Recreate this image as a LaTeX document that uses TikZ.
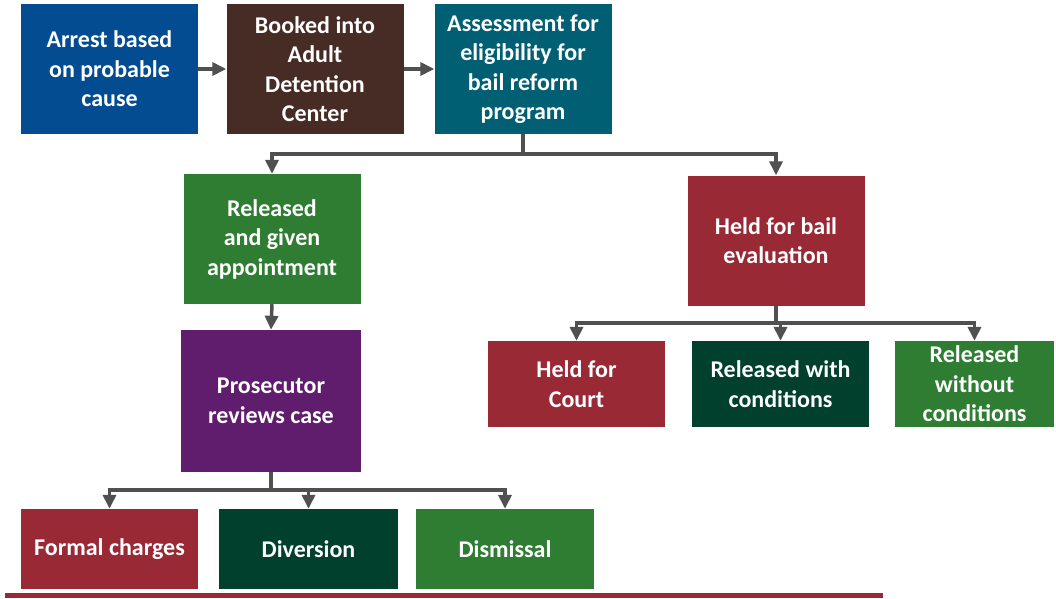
\documentclass[tikz,border=0pt]{standalone}
\usepackage{fontspec}
\setmainfont{Carlito}
\usetikzlibrary{arrows.meta}
\definecolor{cblue}{RGB}{3,76,145}
\definecolor{cbrown}{RGB}{70,44,36}
\definecolor{cteal}{RGB}{0,95,115}
\definecolor{cgreen}{RGB}{47,125,50}
\definecolor{cred}{RGB}{153,41,53}
\definecolor{cpurple}{RGB}{97,29,109}
\definecolor{cdkgreen}{RGB}{0,64,44}
\definecolor{cline}{RGB}{80,80,80}
\begin{document}
\begin{tikzpicture}[x=1pt,y=-1pt,
  box/.style={inner sep=0pt, text=white, align=center,
    font=\bfseries\fontsize{24}{29.5}\selectfont},
  big/.style={box, minimum width=177pt, minimum height=130pt},
  small/.style={box, minimum width=177pt, minimum height=86pt},
  wire/.style={draw=cline, line width=3.5pt},
  conn/.style={wire, -{Triangle[width=13pt,length=14pt]}}
]
\useasboundingbox (0,0) rectangle (1056,598);
% top row
\node[big, fill=cblue] (arrest) at (109.5,69) {Arrest based\\on probable\\cause};
\node[big, fill=cbrown] (booked) at (315,69) {Booked into\\Adult\\Detention\\Center};
\node[big, fill=cteal] (assess) at (523,69) {Assessment for\\eligibility for\\bail reform\\program};
% second row
\node[big, fill=cgreen] (released) at (272,239) {Released\\and given\\appointment};
\node[big, fill=cred] (held) at (776,240.5) {Held for bail\\evaluation};
% prosecutor
\node[box, fill=cpurple, minimum width=180pt, minimum height=142pt] (pros) at (271,401) {Prosecutor\\reviews case};
% outcomes
\node[box, fill=cred, minimum width=177pt, minimum height=80pt] (formal) at (109.5,549) {Formal charges};
\node[box, fill=cdkgreen, minimum width=179pt, minimum height=80pt] (divers) at (308.5,549) {Diversion};
\node[box, fill=cgreen, minimum width=178pt, minimum height=80pt] (dismiss) at (505,549) {Dismissal};
\node[small, fill=cred] (court) at (576.5,384) {Held for\\Court};
\node[small, fill=cdkgreen] (relw) at (780.5,384) {Released with\\conditions};
\node[box, fill=cgreen, minimum width=159pt, minimum height=86pt] (relwo) at (974.5,384) {Released\\without\\conditions};
% connectors
\draw[conn] (arrest.east) -- (booked.west);
\draw[conn] (booked.east) -- (assess.west);
\coordinate (j1) at (523,154);
\draw[wire] (assess.south) -- (j1);
\draw[conn] (j1) -| (released.north);
\draw[conn] (j1) -| (held.north);
\draw[conn] (released.south) -- (pros.north);
\coordinate (j2) at (271,490);
\draw[wire] (pros.south) -- (j2);
\draw[conn] (j2) -| (formal.north);
\draw[conn] (j2) -| (divers.north);
\draw[conn] (j2) -| (dismiss.north);
\coordinate (j3) at (776,323);
\draw[wire] (held.south) -- (j3);
\draw[conn] (j3) -| (court.north);
\draw[conn] (j3) -| (relw.north);
\draw[conn] (j3) -| (relwo.north);
% bottom band
\fill[cred] (5,593) rectangle (883,598);
\end{tikzpicture}
\end{document}
